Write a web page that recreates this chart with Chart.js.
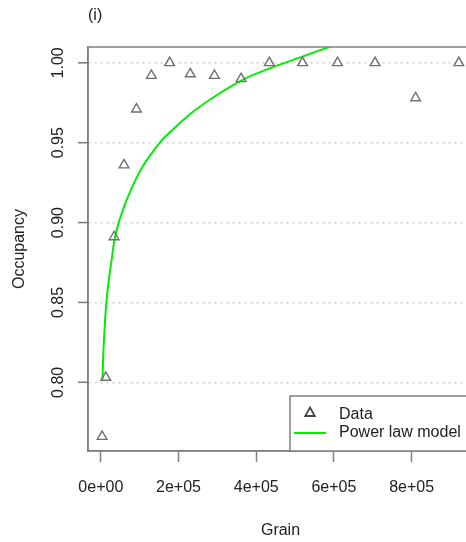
<!DOCTYPE html>
<html>
<head>
<meta charset="utf-8">
<script src="https://cdn.jsdelivr.net/npm/chart.js@4.4.0/dist/chart.umd.min.js"></script>
<style>
  html, body { margin: 0; padding: 0; overflow: hidden; background: #fff; }
  #wrap { width: 480px; height: 542px; }
</style>
</head>
<body>
<div id="wrap"><canvas id="chart" width="480" height="542"></canvas></div>
<script>
// observed points
const grain = [3300, 12800, 34100, 59800, 91600, 130100, 177100, 230200, 292600, 361100, 433800, 519300, 609100, 705900, 810300, 921500];
const occupancy = [0.766, 0.803, 0.891, 0.936, 0.971, 0.992, 1.000, 0.993, 0.992, 0.990, 1.000, 1.000, 1.000, 1.000, 0.978, 1.000];

// fitted power law curve
const modelGrain = [4400, 6000, 8000, 10000, 14000, 20000, 28000, 35000, 45000, 60000, 75000, 90000, 110000, 130000, 155000, 180000, 230000, 300000, 370000, 440000, 520000, 600000];
const modelOccupancy = [0.802, 0.815, 0.826, 0.835, 0.849, 0.863, 0.877, 0.889, 0.899, 0.910, 0.919, 0.927, 0.936, 0.943, 0.951, 0.957, 0.968, 0.980, 0.990, 0.997, 1.004, 1.011];

const xTicks = [0, 200000, 400000, 600000, 800000];
const xTickLabels = ['0e+00', '2e+05', '4e+05', '6e+05', '8e+05'];
const yTicks = [0.80, 0.85, 0.90, 0.95, 1.00];
const yTickLabels = ['0.80', '0.85', '0.90', '0.95', '1.00'];

const FONT = '"Liberation Sans", Arial, Helvetica, sans-serif';
const TEXT = '#222';
const AXIS = '#808080';

const decor = {
  id: 'decor',
  afterDraw(chart) {
    const { ctx, chartArea: a, scales: { y } } = chart;
    ctx.save();
    ctx.setLineDash([]);
    // box around the plot
    ctx.strokeStyle = AXIS;
    ctx.lineWidth = 1.5;
    ctx.strokeRect(a.left, a.top, a.right - a.left, a.bottom - a.top);

    // y tick marks, solid (grid lines are dotted)
    ctx.fillStyle = '#777';
    yTicks.forEach(v => {
      const py = y.getPixelForValue(v);
      ctx.fillRect(a.left - 10, py - 0.75, 10, 1.5);
    });

    ctx.fillStyle = TEXT;
    ctx.font = '16px ' + FONT;
    ctx.textAlign = 'center';
    ctx.textBaseline = 'middle';
    // rotated y tick labels, R style
    yTicks.forEach((v, i) => {
      ctx.save();
      ctx.translate(59, y.getPixelForValue(v));
      ctx.rotate(-Math.PI / 2);
      ctx.fillText(yTickLabels[i], 0, 0);
      ctx.restore();
    });
    ctx.save();
    ctx.translate(20, (a.top + a.bottom) / 2);
    ctx.rotate(-Math.PI / 2);
    ctx.fillText('Occupancy', 0, 0);
    ctx.restore();
    ctx.fillText('Grain', (a.left + a.right) / 2, 531);
    ctx.textAlign = 'left';
    ctx.fillText('(i)', a.left, 16);

    // legend, bottom right
    const lx = 290, ly = 396;
    ctx.fillStyle = '#fff';
    ctx.fillRect(lx, ly, a.right - lx, a.bottom - ly);
    ctx.strokeStyle = AXIS;
    ctx.lineWidth = 1.5;
    ctx.strokeRect(lx, ly, a.right - lx, a.bottom - ly);
    ctx.strokeStyle = '#444';
    ctx.lineWidth = 1.8;
    ctx.beginPath();
    ctx.moveTo(310, 407.5);
    ctx.lineTo(314.8, 416);
    ctx.lineTo(305.2, 416);
    ctx.closePath();
    ctx.stroke();
    ctx.strokeStyle = '#00ee00';
    ctx.lineWidth = 2;
    ctx.beginPath();
    ctx.moveTo(294, 433);
    ctx.lineTo(326, 433);
    ctx.stroke();
    ctx.fillStyle = TEXT;
    ctx.fillText('Data', 339, 415);
    ctx.fillText('Power law model', 339, 433);
    ctx.restore();
  }
};

new Chart(document.getElementById('chart'), {
  type: 'scatter',
  data: {
    datasets: [
      {
        label: 'Data',
        data: grain.map((g, i) => ({ x: g, y: occupancy[i] })),
        pointStyle: 'triangle',
        pointRadius: 5.6,
        borderColor: '#707070',
        backgroundColor: 'rgba(0,0,0,0)',
        borderWidth: 1.4
      },
      {
        label: 'Power law model',
        data: modelGrain.map((g, i) => ({ x: g, y: modelOccupancy[i] })),
        showLine: true,
        cubicInterpolationMode: 'monotone',
        borderColor: '#00ee00',
        borderWidth: 2,
        pointRadius: 0
      }
    ]
  },
  options: {
    responsive: false,
    animation: false,
    layout: { padding: { top: 47, right: 6, left: 0, bottom: 0 } },
    plugins: { legend: { display: false }, tooltip: { enabled: false } },
    scales: {
      x: {
        type: 'linear',
        min: -33000,
        max: 958000,
        afterBuildTicks: s => { s.ticks = xTicks.map(v => ({ value: v })); },
        afterFit: s => { s.height = 91; },
        grid: { display: true, drawOnChartArea: false, drawTicks: true, tickLength: 11, tickColor: AXIS, tickWidth: 1.5 },
        border: { display: true, color: AXIS, width: 1.5 },
        ticks: {
          padding: 16, color: TEXT, maxRotation: 0, autoSkip: false,
          font: { family: FONT, size: 16 },
          callback: (v, i) => xTickLabels[i]
        }
      },
      y: {
        type: 'linear',
        min: 0.757,
        max: 1.0099,
        afterBuildTicks: s => { s.ticks = yTicks.map(v => ({ value: v })); },
        afterFit: s => { s.width = 88; },
        grid: { color: '#cfcfcf', lineWidth: 1.5, drawTicks: false },
        border: { display: true, color: AXIS, width: 1.5, dash: [2, 4] },
        ticks: { display: false }
      }
    }
  },
  plugins: [decor]
});
</script>
</body>
</html>
